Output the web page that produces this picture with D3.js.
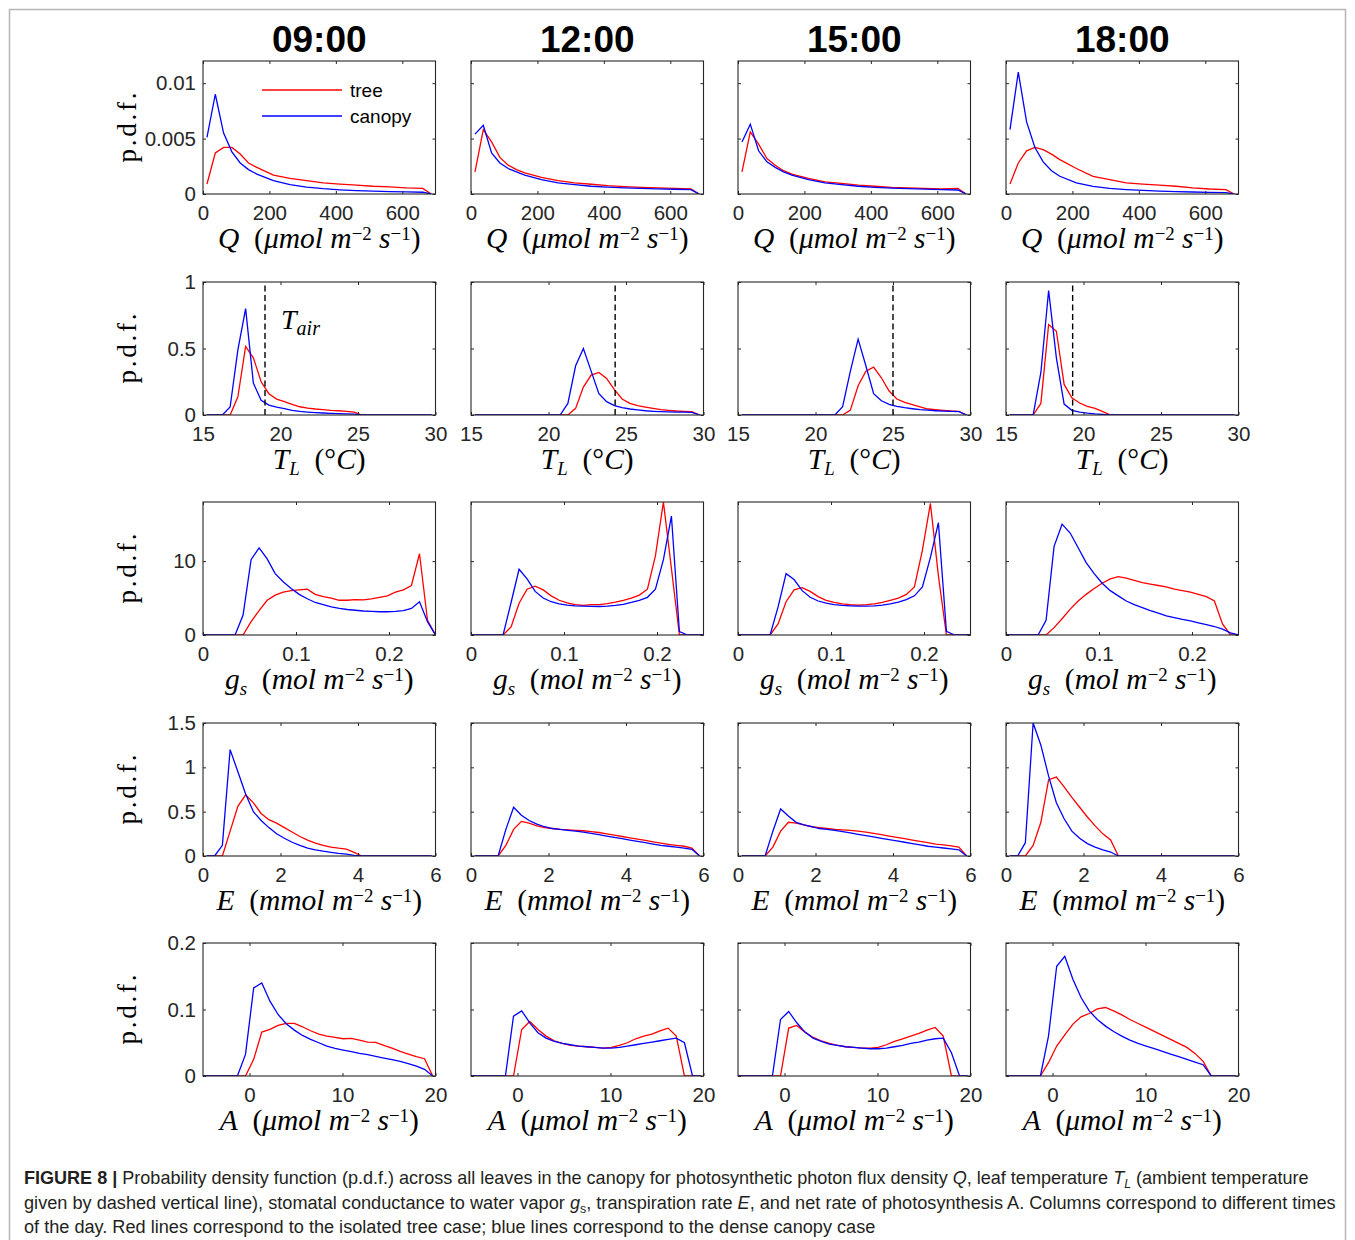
<!DOCTYPE html>
<html>
<head>
<meta charset="utf-8">
<script src="https://cdn.jsdelivr.net/npm/d3@7/dist/d3.min.js"></script>
<style>
  body { margin: 0; background: #fff; }
  svg { display: block; }
</style>
</head>
<body>
<script>
// ---- data ----
const times = ["09:00", "12:00", "15:00", "18:00"];

// Q (umol m-2 s-1)
const qGrid = [12, 37, 62, 87, 112, 137, 162, 212, 262, 312, 362, 412, 462, 512, 562, 612, 662, 687];
const qTree = [
  [0.0009,0.0037,0.0042,0.0042,0.0036,0.0028,0.0024,0.0017,0.0014,0.0012,0.001,0.0009,0.0008,0.0007,0.00065,0.00055,0.0005,0],
  [0.002,0.0058,0.0047,0.0033,0.0026,0.0022,0.0019,0.0015,0.0012,0.001,0.00088,0.00075,0.00066,0.0006,0.00055,0.0005,0.00045,0],
  [0.002,0.0056,0.0045,0.0032,0.0026,0.0021,0.0018,0.0014,0.0011,0.00095,0.0008,0.0007,0.0006,0.00055,0.0005,0.00045,0.0005,0],
  [0.0009,0.0028,0.0039,0.0042,0.004,0.0036,0.0031,0.0023,0.0016,0.0013,0.001,0.0009,0.0008,0.0007,0.00055,0.00045,0.0004,0]
];
const qCanopy = [
  [0.0051,0.009,0.0055,0.0038,0.0028,0.0022,0.0018,0.0012,0.00085,0.00062,0.00048,0.00038,0.00031,0.00026,0.00022,0.00019,0.00016,0],
  [0.0054,0.0062,0.0037,0.0028,0.0023,0.002,0.0017,0.0013,0.001,0.00085,0.0007,0.00062,0.00055,0.0005,0.00046,0.00043,0.0004,0],
  [0.0047,0.0063,0.0039,0.0029,0.0024,0.002,0.0017,0.0013,0.001,0.00085,0.0007,0.0006,0.00053,0.00048,0.00044,0.0004,0.00036,0],
  [0.0058,0.011,0.0065,0.0042,0.0029,0.0021,0.0016,0.001,0.00068,0.0005,0.0004,0.00032,0.00026,0.00021,0.00018,0.00015,0.00012,0]
];

// leaf temperature T_L (deg C)
const tlGrid = [15.25,15.75,16.25,16.75,17.25,17.75,18.25,18.75,19.25,19.75,20.25,20.75,21.25,21.75,22.25,
                22.75,23.25,23.75,24.25,24.75,25.25,25.75,26.25,26.75,27.25,27.75,28.25,28.75,29.25,29.75];
const tlTree = [
  [0,0,0,0,0.137,0.515,0.43,0.25,0.16,0.12,0.1,0.08,0.062,0.052,0.045,0.04,0.035,0.032,0.028,0.022,0,0,0,0,0,0,0,0,0,0],
  [0,0,0,0,0,0,0,0,0,0,0,0,0,0.05,0.21,0.3,0.32,0.275,0.19,0.12,0.087,0.07,0.06,0.05,0.04,0.035,0.03,0.027,0.025,0],
  [0,0,0,0,0,0,0,0,0,0,0,0,0,0,0.037,0.22,0.33,0.36,0.28,0.18,0.12,0.095,0.078,0.062,0.045,0.04,0.035,0.03,0.028,0],
  [0,0,0,0,0.087,0.68,0.63,0.23,0.13,0.09,0.065,0.05,0.025,0,0,0,0,0,0,0,0,0,0,0,0,0,0,0,0,0]
];
const tlCanopy = [
  [0,0,0,0.06,0.49,0.8,0.24,0.11,0.075,0.06,0.048,0.035,0.027,0.022,0.018,0.015,0.012,0.01,0.008,0.006,0,0,0,0,0,0,0,0,0,0],
  [0,0,0,0,0,0,0,0,0,0,0,0,0.087,0.37,0.5,0.33,0.16,0.1,0.07,0.055,0.045,0.038,0.032,0.028,0.025,0.023,0.022,0.021,0.02,0],
  [0,0,0,0,0,0,0,0,0,0,0,0,0,0.062,0.33,0.57,0.37,0.16,0.107,0.08,0.065,0.055,0.047,0.04,0.036,0.032,0.029,0.027,0.025,0],
  [0,0,0,0,0.32,0.935,0.43,0.082,0.035,0.022,0.014,0.008,0.004,0,0,0,0,0,0,0,0,0,0,0,0,0,0,0,0,0]
];
const tAir = [19.0, 24.3, 25.0, 19.3];

// stomatal conductance g_s (mol m-2 s-1)
const gsGrid = [0,0.0086,0.0172,0.0259,0.0345,0.0431,0.0517,0.0603,0.069,0.0776,0.0862,0.0948,0.1034,0.1121,0.1207,
                0.1293,0.1379,0.1466,0.1552,0.1638,0.1724,0.181,0.1897,0.1983,0.2069,0.2155,0.2241,0.2328,0.2414,0.25];
const gsTree = [
  [0,0,0,0,0,0,1.8,3.3,4.7,5.4,5.8,6.0,6.1,6.2,5.5,5.2,5.0,4.7,4.7,4.8,4.75,4.9,5.1,5.3,5.8,6.1,6.7,11.0,2.0,0],
  [0,0,0,0,0,1.1,4.3,6.2,6.6,6.1,5.3,4.7,4.35,4.1,4.0,4.1,4.1,4.25,4.45,4.7,5.0,5.4,6.2,10.7,18.0,9.0,0,0,0,0],
  [0,0,0,0,0,1.5,4.5,6.1,6.4,5.9,5.2,4.7,4.4,4.2,4.1,4.05,4.1,4.2,4.4,4.7,5.0,5.5,6.5,11.5,17.8,8.0,0,0,0,0],
  [0,0,0,0,0,0,1.0,2.2,3.5,4.6,5.5,6.3,7.0,7.6,7.9,7.7,7.4,7.1,6.9,6.7,6.5,6.2,6.0,5.8,5.5,5.2,4.6,1.5,0,0]
];
const gsCanopy = [
  [0,0,0,0,0,2.7,10.2,11.8,10.3,8.3,7.2,6.3,5.5,4.9,4.4,4.1,3.8,3.6,3.45,3.35,3.25,3.2,3.15,3.15,3.2,3.3,3.6,4.5,1.8,0],
  [0,0,0,0,0,4.4,8.9,7.6,5.9,5.0,4.5,4.2,4.05,3.95,3.9,3.87,3.86,3.9,4.0,4.15,4.4,4.7,5.1,6.2,10.2,16.1,0.45,0,0,0],
  [0,0,0,0,0,3.8,8.3,7.5,6.0,5.1,4.6,4.3,4.1,4.0,3.95,3.9,3.9,3.95,4.05,4.2,4.45,4.8,5.3,6.5,10.5,15.2,0.5,0,0,0],
  [0,0,0,0,0,2.0,12.0,15.0,13.8,11.8,9.8,8.3,7.0,6.0,5.3,4.6,4.1,3.7,3.3,2.95,2.6,2.35,2.1,1.9,1.65,1.4,1.15,0.8,0.3,0]
];

// transpiration E (mmol m-2 s-1)
const eGrid = [0.1,0.3,0.5,0.7,0.9,1.1,1.3,1.5,1.7,1.9,2.1,2.3,2.5,2.7,2.9,3.1,3.3,3.5,3.7,3.9,
               4.1,4.3,4.5,4.7,4.9,5.1,5.3,5.5,5.7,5.9];
const eTree = [
  [0,0,0,0.28,0.56,0.69,0.6,0.48,0.41,0.37,0.32,0.27,0.22,0.18,0.145,0.12,0.1,0.088,0.078,0.04,0,0,0,0,0,0,0,0,0,0],
  [0,0,0,0,0.12,0.3,0.39,0.37,0.34,0.32,0.31,0.3,0.295,0.29,0.285,0.275,0.265,0.25,0.235,0.22,0.205,0.19,0.175,0.16,0.145,0.13,0.12,0.11,0.09,0],
  [0,0,0,0,0.1,0.28,0.38,0.37,0.35,0.33,0.32,0.31,0.3,0.295,0.29,0.28,0.27,0.255,0.24,0.225,0.21,0.195,0.18,0.165,0.15,0.135,0.125,0.115,0.1,0],
  [0,0,0,0.12,0.38,0.86,0.89,0.78,0.66,0.55,0.44,0.34,0.25,0.18,0,0,0,0,0,0,0,0,0,0,0,0,0,0,0,0]
];
const eCanopy = [
  [0,0,0.12,1.2,0.95,0.7,0.5,0.4,0.32,0.25,0.2,0.155,0.12,0.09,0.07,0.055,0.042,0.03,0.02,0.008,0,0,0,0,0,0,0,0,0,0],
  [0,0,0,0,0.3,0.55,0.46,0.4,0.36,0.33,0.31,0.3,0.29,0.28,0.27,0.255,0.24,0.225,0.21,0.195,0.18,0.165,0.15,0.135,0.12,0.11,0.1,0.09,0.075,0],
  [0,0,0,0,0.28,0.53,0.45,0.38,0.35,0.33,0.31,0.3,0.29,0.275,0.26,0.245,0.23,0.215,0.2,0.185,0.17,0.155,0.14,0.125,0.11,0.1,0.09,0.08,0.07,0],
  [0,0,0.15,1.5,1.25,0.9,0.6,0.42,0.28,0.2,0.14,0.1,0.07,0.045,0,0,0,0,0,0,0,0,0,0,0,0,0,0,0,0]
];

// net photosynthesis A (umol m-2 s-1)
const aGrid = [-5,-1.3,-0.43,0.45,1.32,2.2,3.07,3.95,4.82,5.7,6.57,7.45,8.32,9.2,10.07,10.95,11.82,12.7,13.57,
               14.45,15.32,16.2,17.07,17.95,18.82,19.7];
const aTree = [
  [0,0,0,0.025,0.066,0.07,0.076,0.079,0.079,0.074,0.068,0.063,0.06,0.058,0.056,0.0565,0.054,0.051,0.0505,0.046,0.042,0.037,0.033,0.029,0.026,0],
  [0,0,0,0.07,0.082,0.07,0.06,0.053,0.049,0.046,0.045,0.044,0.043,0.042,0.043,0.046,0.05,0.056,0.06,0.063,0.068,0.072,0.06,0,0,0],
  [0,0,0,0.072,0.076,0.066,0.058,0.053,0.049,0.046,0.044,0.043,0.042,0.042,0.043,0.047,0.052,0.056,0.06,0.064,0.069,0.073,0.06,0,0,0],
  [0,0,0.02,0.045,0.062,0.078,0.089,0.094,0.101,0.103,0.098,0.092,0.085,0.079,0.073,0.067,0.061,0.055,0.049,0.043,0.034,0.022,0,0,0,0]
];
const aCanopy = [
  [0,0,0.0325,0.1325,0.14,0.1125,0.0925,0.0785,0.069,0.061,0.055,0.05,0.045,0.0415,0.039,0.0365,0.034,0.032,0.0295,0.027,0.0245,0.022,0.0185,0.015,0.01,0],
  [0,0,0.09,0.098,0.08,0.065,0.057,0.052,0.049,0.047,0.045,0.044,0.043,0.042,0.042,0.043,0.045,0.047,0.049,0.051,0.053,0.055,0.057,0.05,0,0],
  [0,0,0.085,0.097,0.08,0.066,0.057,0.052,0.048,0.046,0.044,0.043,0.042,0.041,0.041,0.042,0.044,0.046,0.049,0.051,0.054,0.056,0.057,0.035,0,0],
  [0,0,0.06,0.165,0.18,0.145,0.118,0.098,0.085,0.075,0.067,0.06,0.054,0.049,0.045,0.041,0.037,0.033,0.029,0.025,0.021,0.017,0,0,0,0]
];

// axis ticks
const qTicks = [0, 200, 400, 600],        qYTicks = [0, 0.005, 0.01],  qYLabels = ["0", "0.005", "0.01"];
const tlTicks = [15, 20, 25, 30],         tlYTicks = [0, 0.5, 1],      tlYLabels = ["0", "0.5", "1"];
const gsTicks = [0, 0.1, 0.2],            gsYTicks = [0, 10],          gsYLabels = ["0", "10"];
const eTicks = [0, 2, 4, 6],              eYTicks = [0, 0.5, 1, 1.5],  eYLabels = ["0", "0.5", "1", "1.5"];
const aTicks = [0, 10, 20],               aYTicks = [0, 0.1, 0.2],     aYLabels = ["0", "0.1", "0.2"];

// ---- layout ----
const W = 1355, H = 1240;
const colLeft = [203, 471, 738, 1006];
const rowTop = [61, 282, 502, 723, 943];
const pw = 232.5, ph = 133;
const sans = "'Liberation Sans', Helvetica, Arial, sans-serif";
const serif = "'Liberation Serif', 'Times New Roman', serif";
const axisColor = "#262626";

const rows = [
  { grid: qGrid, tree: qTree, canopy: qCanopy, xd: [0, 700], yd: [0, 0.012], xt: qTicks, xl: qTicks.map(String),
    yt: qYTicks, yl: qYLabels,
    label: [{t: "Q", i: 1}, {t: "\u2002("}, {t: "\u03bcmol\u00a0m", i: 1}, {t: "\u22122", s: 1}, {t: "\u00a0s", i: 1}, {t: "\u22121", s: 1}, {t: ")"}] },
  { grid: tlGrid, tree: tlTree, canopy: tlCanopy, xd: [15, 30], yd: [0, 1], xt: tlTicks, xl: tlTicks.map(String),
    yt: tlYTicks, yl: tlYLabels,
    label: [{t: "T", i: 1}, {t: "L", i: 1, b: 1}, {t: "\u2002(\u00b0"}, {t: "C", i: 1}, {t: ")"}] },
  { grid: gsGrid, tree: gsTree, canopy: gsCanopy, xd: [0, 0.25], yd: [0, 18], xt: gsTicks, xl: ["0", "0.1", "0.2"],
    yt: gsYTicks, yl: gsYLabels,
    label: [{t: "g", i: 1}, {t: "s", i: 1, b: 1}, {t: "\u2002("}, {t: "mol\u00a0m", i: 1}, {t: "\u22122", s: 1}, {t: "\u00a0s", i: 1}, {t: "\u22121", s: 1}, {t: ")"}] },
  { grid: eGrid, tree: eTree, canopy: eCanopy, xd: [0, 6], yd: [0, 1.5], xt: eTicks, xl: eTicks.map(String),
    yt: eYTicks, yl: eYLabels,
    label: [{t: "E", i: 1}, {t: "\u2002("}, {t: "mmol\u00a0m", i: 1}, {t: "\u22122", s: 1}, {t: "\u00a0s", i: 1}, {t: "\u22121", s: 1}, {t: ")"}] },
  { grid: aGrid, tree: aTree, canopy: aCanopy, xd: [-5, 20], yd: [0, 0.2], xt: aTicks, xl: aTicks.map(String),
    yt: aYTicks, yl: aYLabels,
    label: [{t: "A", i: 1}, {t: "\u2002("}, {t: "\u03bcmol\u00a0m", i: 1}, {t: "\u22122", s: 1}, {t: "\u00a0s", i: 1}, {t: "\u22121", s: 1}, {t: ")"}] }
];

const svg = d3.select("body").append("svg")
  .attr("width", W)
  .attr("height", H);

svg.append("rect").attr("width", W).attr("height", H).attr("fill", "#fff");

// figure frame
svg.append("rect")
  .attr("x", 9.5).attr("y", 9.5)
  .attr("width", W - 19).attr("height", H)
  .attr("fill", "none")
  .attr("stroke", "#b5b5b5")
  .attr("stroke-width", 1.5);

// math-ish label built of tspans (italic, sub/superscripts)
function mathText(g, x, y, segs, size) {
  const t = g.append("text")
    .attr("x", x).attr("y", y)
    .attr("text-anchor", "middle")
    .style("font-family", serif)
    .style("font-size", size + "px")
    .attr("fill", "#000");
  let shift = 0;
  segs.forEach(s => {
    const target = s.s ? -0.27 * size : s.b ? 0.22 * size : 0;
    t.append("tspan")
      .attr("dy", target - shift)
      .style("font-style", s.i ? "italic" : "normal")
      .style("font-size", (s.s || s.b ? 0.64 * size : size) + "px")
      .text(s.t);
    shift = target;
  });
  return t;
}

// column titles
times.forEach((tm, c) => {
  svg.append("text")
    .attr("x", colLeft[c] + pw / 2)
    .attr("y", 52)
    .attr("text-anchor", "middle")
    .style("font-family", sans)
    .style("font-weight", "bold")
    .style("font-size", "37px")
    .attr("fill", "#000")
    .text(tm);
});

const tickLen = 3;

rows.forEach((row, r) => {
  times.forEach((tm, c) => {
    const x0 = colLeft[c], y0 = rowTop[r];
    const x = d3.scaleLinear().domain(row.xd).range([x0, x0 + pw]);
    const y = d3.scaleLinear().domain(row.yd).range([y0 + ph, y0]);
    const g = svg.append("g");

    const clipId = `clip-${r}-${c}`;
    svg.append("clipPath").attr("id", clipId)
      .append("rect").attr("x", x0).attr("y", y0 - 1).attr("width", pw).attr("height", ph + 1);

    // curves: tree (red) then canopy (blue)
    const line = d3.line().x((d, i) => x(row.grid[i])).y(d => y(d));
    const lines = g.append("g").attr("clip-path", `url(#${clipId})`);
    lines.append("path")
      .attr("d", line(row.tree[c]))
      .attr("fill", "none").attr("stroke", "#ff0000").attr("stroke-width", 1.3);
    lines.append("path")
      .attr("d", line(row.canopy[c]))
      .attr("fill", "none").attr("stroke", "#0000ff").attr("stroke-width", 1.3);

    // ambient temperature line
    if (r === 1) {
      g.append("line")
        .attr("x1", x(tAir[c])).attr("x2", x(tAir[c]))
        .attr("y1", y0 + ph).attr("y2", y0)
        .attr("stroke", "#000").attr("stroke-width", 1.4)
        .attr("stroke-dasharray", "6,3.5");
    }

    // axes: bottom/left with labels, top/right mirrored, ticks inward
    const bottom = d3.axisBottom(x).tickValues(row.xt).tickSize(-tickLen).tickPadding(11)
      .tickFormat((d, i) => row.xl[i]);
    const top = d3.axisTop(x).tickValues(row.xt).tickSize(-tickLen).tickFormat("");
    const left = d3.axisLeft(y).tickValues(row.yt).tickSize(-tickLen).tickPadding(7)
      .tickFormat((d, i) => c === 0 ? row.yl[i] : "");
    const right = d3.axisRight(y).tickValues(row.yt).tickSize(-tickLen).tickFormat("");

    const axes = [
      [bottom, `translate(0,${y0 + ph})`],
      [top, `translate(0,${y0})`],
      [left, `translate(${x0},0)`],
      [right, `translate(${x0 + pw},0)`]
    ];
    axes.forEach(([ax, tr]) => {
      const a = g.append("g").attr("transform", tr).call(ax);
      a.select(".domain").remove();
      a.selectAll(".tick line").attr("stroke", axisColor).attr("stroke-width", 1);
      a.selectAll(".tick text")
        .style("font-family", sans)
        .style("font-size", "20.5px")
        .attr("fill", axisColor);
    });

    g.append("rect")
      .attr("x", x0).attr("y", y0).attr("width", pw).attr("height", ph)
      .attr("fill", "none").attr("stroke", axisColor).attr("stroke-width", 1.1);

    // x label
    mathText(g, x0 + pw / 2, y0 + ph + 54, row.label, 29.5);

    // y label
    if (c === 0) {
      svg.append("text")
        .attr("transform", `translate(136,${y0 + ph / 2}) rotate(-90)`)
        .attr("text-anchor", "middle")
        .style("font-family", serif)
        .style("font-size", "27px")
        .attr("textLength", 70)
        .attr("lengthAdjust", "spacing")
        .attr("fill", "#000")
        .text("p.d.f.");
    }

    // legend and T_air annotation
    if (r === 0 && c === 0) {
      const lg = [["tree", "#ff0000"], ["canopy", "#0000ff"]];
      lg.forEach(([name, col], k) => {
        g.append("line")
          .attr("x1", x0 + 59).attr("x2", x0 + 139)
          .attr("y1", y0 + 29 + k * 26).attr("y2", y0 + 29 + k * 26)
          .attr("stroke", col).attr("stroke-width", 1.3);
        g.append("text")
          .attr("x", x0 + 147).attr("y", y0 + 36 + k * 26)
          .style("font-family", sans).style("font-size", "19px")
          .attr("fill", "#000")
          .text(name);
      });
    }
    if (r === 1 && c === 0) {
      const t = g.append("text")
        .attr("x", x0 + 78).attr("y", y0 + 47)
        .style("font-family", serif).style("font-size", "28px").style("font-style", "italic")
        .attr("fill", "#000");
      t.append("tspan").text("T");
      t.append("tspan").attr("dy", 6).style("font-size", "20px").text("air");
    }
  });
});

// caption: a slightly condensed sans, each line squeezed to the reference width
const capLines = [
  { y: 1184, w: 1286, segs: [{t: "FIGURE 8 | ", bold: 1}, {t: "Probability density function (p.d.f.) across all leaves in the canopy for photosynthetic photon flux density "},
                             {t: "Q", i: 1}, {t: ", leaf temperature "}, {t: "T", i: 1}, {t: "L", i: 1, b: 1}, {t: " (ambient temperature"}] },
  { y: 1209, w: 1312, segs: [{t: "given by dashed vertical line), stomatal conductance to water vapor "}, {t: "g", i: 1}, {t: "s", b: 1},
                             {t: ", transpiration rate "}, {t: "E", i: 1}, {t: ", and net rate of photosynthesis A. Columns correspond to different times"}] },
  { y: 1233, w: 852, segs: [{t: "of the day. Red lines correspond to the isolated tree case; blue lines correspond to the dense canopy case"}] }
];
capLines.forEach(l => {
  const t = svg.append("text")
    .attr("x", 0).attr("y", 0)
    .style("font-family", sans).style("font-size", "19px")
    .attr("fill", "#231f20");
  let shift = 0;
  l.segs.forEach(s => {
    const target = s.b ? 4 : 0;
    t.append("tspan")
      .attr("dy", target - shift)
      .style("font-weight", s.bold ? "bold" : "normal")
      .style("font-style", s.i ? "italic" : "normal")
      .style("font-size", s.b ? "13px" : null)
      .text(s.t);
    shift = target;
  });
  const natural = t.node().getComputedTextLength();
  t.attr("transform", `translate(24,${l.y}) scale(${l.w / natural},1)`);
});
</script>
</body>
</html>
